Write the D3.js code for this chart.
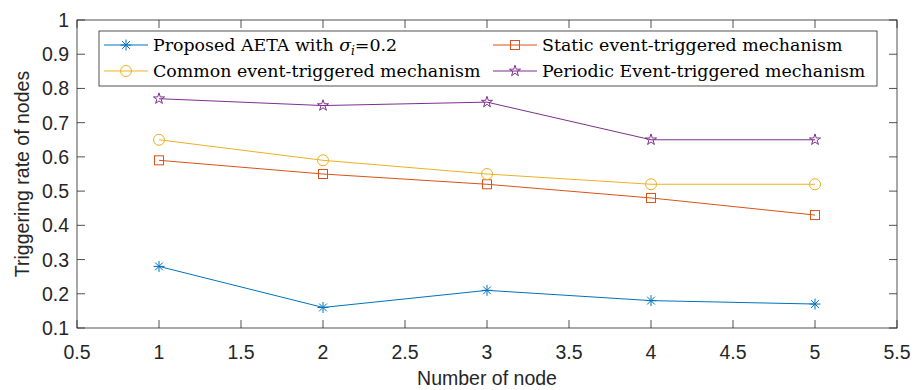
<!DOCTYPE html>
<html>
<head>
<meta charset="utf-8">
<script src="https://cdn.jsdelivr.net/npm/d3@7"></script>
<style>
  body { margin: 0; background: #fff; }
  svg { display: block; }
</style>
</head>
<body>
<div id="chart"></div>
<script>
// Data
const nodes = [1, 2, 3, 4, 5];
const proposed = [0.28, 0.16, 0.21, 0.18, 0.17];
const staticEt = [0.59, 0.55, 0.52, 0.48, 0.43];
const commonEt = [0.65, 0.59, 0.55, 0.52, 0.52];
const periodicEt = [0.77, 0.75, 0.76, 0.65, 0.65];
const xTicks = [0.5, 1, 1.5, 2, 2.5, 3, 3.5, 4, 4.5, 5, 5.5];
const yTicks = [0.1, 0.2, 0.3, 0.4, 0.5, 0.6, 0.7, 0.8, 0.9, 1];

const W = 918, H = 390;
const m = { left: 77, right: 21, top: 20, bottom: 62 };

const svg = d3.select("#chart").append("svg")
  .attr("width", W).attr("height", H);

const x = d3.scaleLinear().domain([0.5, 5.5]).range([m.left, W - m.right]);
const y = d3.scaleLinear().domain([0.1, 1]).range([H - m.bottom, m.top]);

const axisCol = "#262626";
const fontSans = "Helvetica, Arial, 'Liberation Sans', sans-serif";

// box
svg.append("rect")
  .attr("x", x(0.5)).attr("y", y(1))
  .attr("width", x(5.5) - x(0.5)).attr("height", y(0.1) - y(1))
  .attr("fill", "none").attr("stroke", axisCol).attr("stroke-width", 0.8);

// ticks (inside, mirrored like MATLAB box on)
const tk = 8;
const g = svg.append("g").attr("stroke", axisCol).attr("stroke-width", 0.8);
xTicks.forEach(t => {
  g.append("line").attr("x1", x(t)).attr("x2", x(t)).attr("y1", y(0.1)).attr("y2", y(0.1) - tk);
  g.append("line").attr("x1", x(t)).attr("x2", x(t)).attr("y1", y(1)).attr("y2", y(1) + tk);
});
yTicks.forEach(t => {
  g.append("line").attr("y1", y(t)).attr("y2", y(t)).attr("x1", x(0.5)).attr("x2", x(0.5) + tk);
  g.append("line").attr("y1", y(t)).attr("y2", y(t)).attr("x1", x(5.5)).attr("x2", x(5.5) - tk);
});

// tick labels
svg.append("g").selectAll("text").data(xTicks).join("text")
  .attr("x", d => x(d)).attr("y", y(0.1) + 31)
  .attr("text-anchor", "middle")
  .attr("font-family", fontSans).attr("font-size", 19.5).attr("fill", axisCol)
  .text(d => d);
svg.append("g").selectAll("text").data(yTicks).join("text")
  .attr("x", x(0.5) - 8).attr("y", d => y(d) + 7)
  .attr("text-anchor", "end")
  .attr("font-family", fontSans).attr("font-size", 19.5).attr("fill", axisCol)
  .text(d => d);

// axis labels
svg.append("text")
  .attr("x", (x(0.5) + x(5.5)) / 2).attr("y", 385)
  .attr("text-anchor", "middle")
  .attr("font-family", fontSans).attr("font-size", 19.5).attr("fill", axisCol)
  .text("Number of node");
svg.append("text")
  .attr("transform", `translate(29,${(y(0.1) + y(1)) / 2}) rotate(-90)`)
  .attr("text-anchor", "middle")
  .attr("font-family", fontSans).attr("font-size", 19.5).attr("fill", axisCol)
  .text("Triggering rate of nodes");

// marker drawing
function marker(sel, type, color) {
  if (type === "circle") {
    sel.append("circle").attr("r", 5.5).attr("fill", "none").attr("stroke", color).attr("stroke-width", 1);
  } else if (type === "square") {
    sel.append("rect").attr("x", -4.5).attr("y", -4.5).attr("width", 9).attr("height", 9)
      .attr("fill", "none").attr("stroke", color).attr("stroke-width", 1);
  } else if (type === "star") {
    sel.append("path").attr("d", d3.symbol(d3.symbolStar, 38)())
      .attr("fill", "none").attr("stroke", color).attr("stroke-width", 1);
  } else if (type === "asterisk") {
    const r = 5.5;
    [0, 45, 90, 135].forEach(a => {
      const rad = a * Math.PI / 180;
      sel.append("line")
        .attr("x1", -r * Math.cos(rad)).attr("y1", -r * Math.sin(rad))
        .attr("x2", r * Math.cos(rad)).attr("y2", r * Math.sin(rad))
        .attr("stroke", color).attr("stroke-width", 1);
    });
  }
}

const series = [
  { values: proposed, color: "#0072BD", type: "asterisk" },
  { values: staticEt, color: "#D95319", type: "square" },
  { values: commonEt, color: "#EDB120", type: "circle" },
  { values: periodicEt, color: "#7E2F8E", type: "star" }
];

const line = d3.line().x((d, i) => x(nodes[i])).y(d => y(d));

series.forEach(s => {
  svg.append("path").datum(s.values)
    .attr("d", line).attr("fill", "none")
    .attr("stroke", s.color).attr("stroke-width", 1);
  s.values.forEach((v, i) => {
    const mg = svg.append("g").attr("transform", `translate(${x(nodes[i])},${y(v)})`);
    marker(mg, s.type, s.color);
  });
});

// legend
const fontSerif = "'DejaVu Serif', 'Liberation Serif', serif";
const leg = svg.append("g");
leg.append("rect")
  .attr("x", 99).attr("y", 31).attr("width", 778).attr("height", 55)
  .attr("fill", "#fff").attr("stroke", axisCol).attr("stroke-width", 0.8);

const legItems = [
  { s: series[0], col: 0, row: 0, label: "proposed" },
  { s: series[1], col: 1, row: 0, label: "Static event-triggered mechanism" },
  { s: series[2], col: 0, row: 1, label: "Common event-triggered mechanism" },
  { s: series[3], col: 1, row: 1, label: "Periodic Event-triggered mechanism" }
];
const colX = [104, 493];
const rowY = [45, 71];
legItems.forEach(it => {
  const lx = colX[it.col], ly = rowY[it.row];
  leg.append("line").attr("x1", lx).attr("x2", lx + 44).attr("y1", ly).attr("y2", ly)
    .attr("stroke", it.s.color).attr("stroke-width", 1);
  const mg = leg.append("g").attr("transform", `translate(${lx + 22},${ly})`);
  marker(mg, it.s.type, it.s.color);
  const t = leg.append("text").attr("x", lx + 49).attr("y", ly + 6)
    .attr("font-family", fontSerif).attr("font-size", 17.4).attr("fill", "#000");
  if (it.label === "proposed") {
    t.append("tspan").text("Proposed AETA with ");
    t.append("tspan").attr("font-style", "italic").text("σ");
    t.append("tspan").attr("font-style", "italic").attr("font-size", 12).attr("dy", 4).text("i");
    t.append("tspan").attr("dy", -4).text("=0.2");
  } else {
    t.text(it.label);
  }
});
</script>
</body>
</html>
